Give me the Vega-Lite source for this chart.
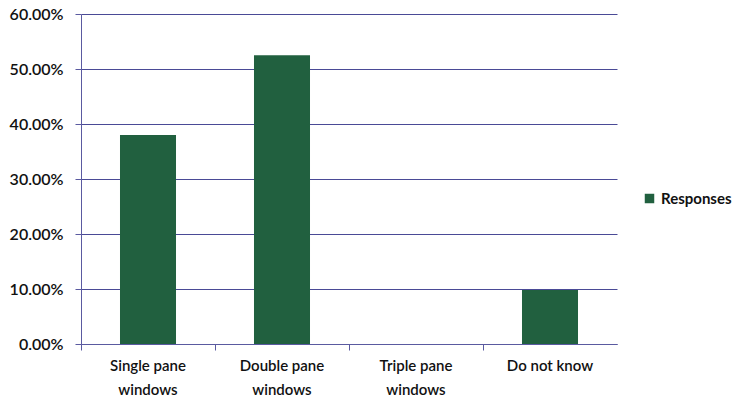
{
  "$schema": "https://vega.github.io/schema/vega-lite/v6.json",
  "width": 536,
  "height": 330,
  "autosize": {"type": "none"},
  "padding": {"left": 81, "top": 14, "right": 120, "bottom": 61},
  "background": "white",
  "config": {
    "view": {"stroke": null},
    "font": "Lato",
    "axis": {"labelFont": "Lato", "labelFontSize": 16, "labelColor": "#111111", "labelFontWeight": 600}
  },
  "data": {
    "values": [
      {"category": "Single pane windows", "value": 0.380, "series": "Responses"},
      {"category": "Double pane windows", "value": 0.525, "series": "Responses"},
      {"category": "Triple pane windows", "value": 0.0, "series": "Responses"},
      {"category": "Do not know", "value": 0.098, "series": "Responses"}
    ]
  },
  "mark": {"type": "bar", "width": {"band": 0.418}},
  "encoding": {
    "x": {
      "field": "category",
      "type": "nominal",
      "sort": null,
      "scale": {"paddingInner": 0, "paddingOuter": 0},
      "axis": {
        "title": null,
        "labelAngle": 0,
        "bandPosition": 0,
        "domainColor": "#5a5aa0",
        "tickColor": "#5a5aa0",
        "tickSize": 6,
        "labelPadding": 8,
        "labelFontSize": 15,
        "labelLineHeight": 24,
        "labelExpr": "indexof(datum.label, ' windows') > 0 ? [replace(datum.label, ' windows', ''), 'windows'] : datum.label"
      }
    },
    "y": {
      "field": "value",
      "type": "quantitative",
      "scale": {"domain": [0, 0.6], "nice": false},
      "axis": {
        "title": null,
        "format": ".2%",
        "values": [0, 0.1, 0.2, 0.3, 0.4, 0.5, 0.6],
        "labelOverlap": false,
        "gridColor": "#4a4a96",
        "gridWidth": 1,
        "domainColor": "#5a5aa0",
        "tickColor": "#5a5aa0",
        "tickSize": 6,
        "labelPadding": 12
      }
    },
    "color": {
      "field": "series",
      "type": "nominal",
      "scale": {"range": ["#21603f"]},
      "legend": {
        "title": null,
        "orient": "none",
        "legendX": 561,
        "legendY": 177,
        "symbolType": "square",
        "symbolSize": 90,
        "labelFontSize": 15,
        "labelFontWeight": "bold",
        "labelFont": "Lato",
        "labelColor": "#111111"
      }
    }
  }
}
